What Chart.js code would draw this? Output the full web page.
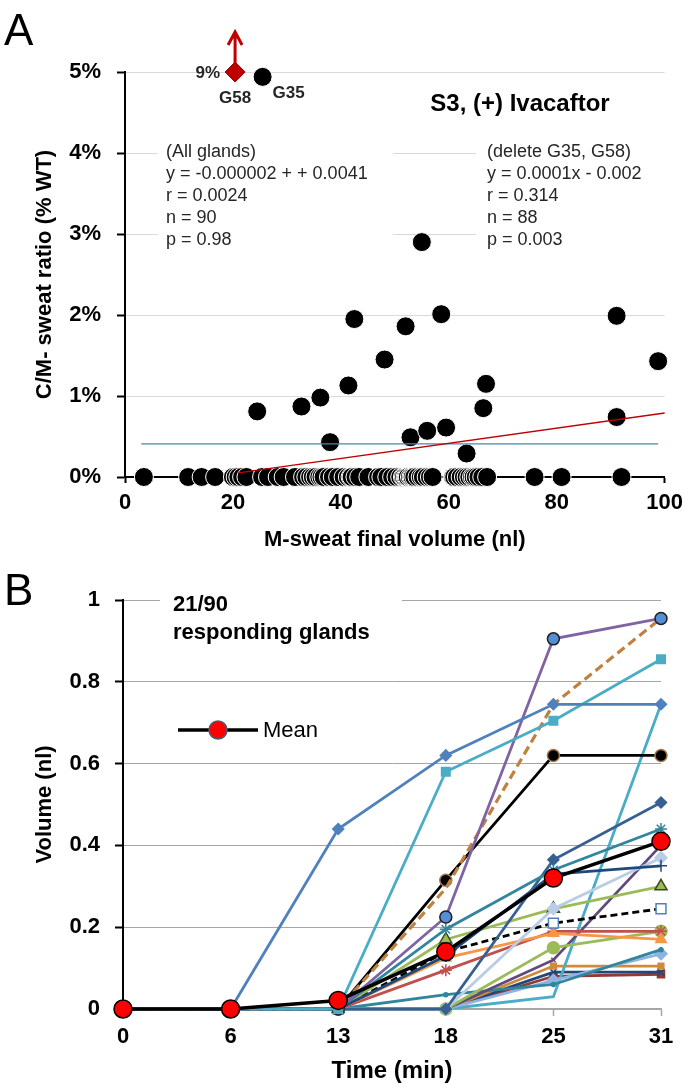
<!DOCTYPE html>
<html>
<head>
<meta charset="utf-8">
<script src="https://cdn.jsdelivr.net/npm/chart.js@4.4.1/dist/chart.umd.min.js"></script>
<style>
  html, body { margin: 0; padding: 0; background: #fff; }
  #chartA { position: absolute; left: 0; top: 0; }
  #chartB { position: absolute; left: 0; top: 560px; }
</style>
</head>
<body>
<canvas id="chartA" width="690" height="560"></canvas>
<canvas id="chartB" width="690" height="531"></canvas>
<script>
// ---------- Panel A data (M-sweat volume nl, C/M ratio %) ----------
const zeroVolume = [3.5, 11.7, 14.2, 16.7, 20.0, 20.5, 21.0, 21.7, 22.5, 25.4, 26.5, 28.3, 29.4,
  31.5, 33.0, 33.6, 34.3, 34.8, 35.3, 36.0, 36.4, 36.8, 37.8, 38.5, 39.5, 40.5, 41.3, 41.8, 42.0,
  42.7, 43.4, 45.1, 46.9, 47.5, 48.6, 49.5, 50.3, 51.0, 51.5, 51.7, 52.0, 52.2, 52.4, 52.8, 53.1,
  53.3, 53.6, 54.2, 54.8, 55.2, 55.9, 56.5, 57.0, 60.8, 61.0, 61.5, 62.2, 62.8, 63.3, 63.8, 64.3,
  64.6, 65.0, 65.5, 66.2, 67.1, 75.9, 80.9, 92.0];
const zeroRatio = zeroVolume.map(() => 0);
const respVolume = [24.5, 32.7, 36.2, 38.0, 41.4, 42.5, 48.1, 52.0, 52.9, 55.0, 56.0, 58.6, 59.5,
  63.3, 66.4, 66.9, 91.1, 91.1, 98.8];
const respRatio = [0.81, 0.87, 0.98, 0.43, 1.13, 1.95, 1.45, 1.86, 0.49, 2.90, 0.57, 2.01, 0.61,
  0.29, 0.85, 1.15, 1.99, 0.74, 1.43];
const g35Volume = [25.5];
const g35Ratio = [4.94];
const g58Volume = [20.4];
const g58Ratio = [5.0];       // plotted at axis top, real value 9%
const meanLineX = [3, 98.8];
const meanLineY = [0.41, 0.41];
const trendX = [21, 100];
const trendY = [0.05, 0.79];
const statsAll = ['(All glands)', 'y = -0.000002 + + 0.0041', 'r = 0.0024', 'n = 90', 'p = 0.98'];
const statsTrim = ['(delete G35, G58)', 'y = 0.0001x - 0.002', 'r = 0.314', 'n = 88', 'p = 0.003'];

// ---------- Panel B data (volume nl at each time) ----------
const timeLabels = ['0', '6', '13', '18', '25', '31'];
const meanVol = [0, 0, 0.021, 0.14, 0.32, 0.41];
const g01 = [0, 0, 0.44, 0.62, 0.745, 0.745];
const g02 = [0, 0, 0, 0.58, 0.705, 0.855];
const g03 = [0, 0, 0, 0.225, 0.905, 0.955];
const g04 = [0, 0, 0, 0.295, 0.745, 0.955];
const g05 = [0, 0, 0, 0.315, 0.62, 0.62];
const g06 = [0, 0, 0, 0.195, 0.34, 0.44];
const g07 = [0, 0, 0, 0, 0.365, 0.505];
const g08 = [0, 0, 0, 0.13, 0.33, 0.35];
const g09 = [0, 0, 0, 0, 0.245, 0.37];
const g10 = [0, 0, 0, 0.17, 0.245, 0.30];
const g11 = [0, 0, 0, 0.14, 0.21, 0.245];
const g12 = [0, 0, 0, 0.125, 0.185, 0.17];
const g13 = [0, 0, 0, 0.095, 0.19, 0.19];
const g14 = [0, 0, 0, 0, 0.15, 0.19];
const g15 = [0, 0, 0, 0, 0.12, 0.40];
const g16 = [0, 0, 0, 0.035, 0.06, 0.145];
const g17 = [0, 0, 0, 0, 0.07, 0.135];
const g18 = [0, 0, 0, 0, 0.03, 0.745];
const g19 = [0, 0, 0, 0, 0.105, 0.105];
const g20 = [0, 0, 0, 0, 0.09, 0.09];
const g21 = [0, 0, 0, 0, 0.08, 0.085];

const FONT = '"Liberation Sans", Arial, sans-serif';
const pts = (xs, ys) => xs.map((x, i) => ({ x, y: ys[i] }));

// ---------- Panel A ----------
const annotA = {
  id: 'annotA',
  beforeDatasetsDraw(chart) {
    const ctx = chart.ctx;
    ctx.save();
    // white text boxes hide the grid lines, as in the source figure
    ctx.fillStyle = '#fff';
    ctx.fillRect(158, 138, 235, 116);
    ctx.fillRect(476, 138, 214, 116);
    ctx.fillStyle = '#262626';
    ctx.font = '18px ' + FONT;
    ctx.textBaseline = 'middle';
    statsAll.forEach((t, i) => ctx.fillText(t, 166, 152 + i * 22));
    statsTrim.forEach((t, i) => ctx.fillText(t, 487, 152 + i * 22));
    ctx.restore();
  },
  afterDatasetsDraw(chart) {
    const ctx = chart.ctx;
    const xs = chart.scales.x, ys = chart.scales.y;
    const px = xs.getPixelForValue(g58Volume[0]), py = ys.getPixelForValue(g58Ratio[0]);
    const qx = xs.getPixelForValue(g35Volume[0]), qy = ys.getPixelForValue(g35Ratio[0]);
    ctx.save();
    // arrow: G58 is off the scale
    ctx.strokeStyle = '#c00000';
    ctx.lineWidth = 3;
    ctx.beginPath();
    ctx.moveTo(px, py - 8);
    ctx.lineTo(px, py - 40);
    ctx.moveTo(px - 7, py - 27);
    ctx.lineTo(px, py - 40);
    ctx.lineTo(px + 7, py - 27);
    ctx.stroke();
    ctx.fillStyle = '#262626';
    ctx.font = 'bold 17px ' + FONT;
    ctx.textBaseline = 'middle';
    ctx.textAlign = 'right';
    ctx.fillText('9%', px - 15, py + 1);
    ctx.textAlign = 'center';
    ctx.fillText('G58', px, py + 26);
    ctx.textAlign = 'left';
    ctx.fillText('G35', qx + 10, qy + 16);
    ctx.fillStyle = '#000';
    ctx.font = 'bold 24px ' + FONT;
    ctx.textAlign = 'center';
    ctx.fillText('S3, (+) Ivacaftor', 520, 104);
    ctx.font = '44px ' + FONT;
    ctx.textAlign = 'left';
    ctx.textBaseline = 'alphabetic';
    ctx.fillText('A', 4, 45);
    ctx.restore();
  }
};

new Chart(document.getElementById('chartA'), {
  type: 'scatter',
  data: {
    datasets: [
      { data: pts(trendX, trendY), showLine: true, borderColor: '#c00000', borderWidth: 1.3,
        pointRadius: 0, clip: false },
      { data: pts(meanLineX, meanLineY), showLine: true, borderColor: '#4f81bd', borderWidth: 1.3,
        pointRadius: 0, clip: false },
      { data: pts(g58Volume, g58Ratio), pointStyle: 'rectRot', pointRadius: 10,
        backgroundColor: '#c00000', borderColor: '#8b0000', borderWidth: 1, clip: false },
      { data: pts(g35Volume, g35Ratio), pointRadius: 9.5, backgroundColor: '#000',
        borderColor: '#fff', borderWidth: 1, clip: false },
      { data: pts(respVolume, respRatio), pointRadius: 9.5, backgroundColor: '#000',
        borderColor: '#fff', borderWidth: 1, clip: false },
      { data: pts(zeroVolume, zeroRatio), pointRadius: 9.5, backgroundColor: '#000',
        borderColor: '#fff', borderWidth: 1, clip: false }
    ]
  },
  options: {
    responsive: false,
    animation: false,
    events: [],
    layout: { padding: { top: 72, right: 25, left: 0, bottom: 0 } },
    plugins: { legend: { display: false }, tooltip: { enabled: false } },
    scales: {
      x: {
        min: 0, max: 100,
        afterFit: s => { s.height = 83; },
        ticks: { stepSize: 20, color: '#000', padding: 7, font: { family: FONT, size: 22, weight: 'bold' } },
        grid: { drawOnChartArea: false, tickLength: 6, tickColor: '#000', tickWidth: 2 },
        border: { color: '#000', width: 2 },
        title: { display: true, text: 'M-sweat final volume (nl)', color: '#000',
          font: { family: FONT, size: 22, weight: 'bold' }, padding: { bottom: 7 } }
      },
      y: {
        min: 0, max: 5,
        afterFit: s => { s.width = 125; },
        ticks: { stepSize: 1, color: '#000', padding: 16, callback: v => v + '%',
          font: { family: FONT, size: 22, weight: 'bold' } },
        grid: { color: '#d9d9d9', lineWidth: 1, tickLength: 8, tickColor: '#000', tickWidth: 2 },
        border: { color: '#000', width: 2 },
        title: { display: true, text: 'C/M- sweat ratio (% WT)', color: '#000',
          font: { family: FONT, size: 22, weight: 'bold' }, padding: { top: 32 } }
      }
    }
  },
  plugins: [annotA]
});

// ---------- Panel B ----------
const glandSeries = [
  { d: g01, c: '#4f81bd', m: 'rectRot', r: 5.5 },
  { d: g02, c: '#4bacc6', m: 'rect', r: 6 },
  { d: g03, c: '#8064a2', m: 'circle', r: 6, fill: '#558ed5', bc: '#1f1f1f' },
  { d: g04, c: '#c0803f', m: 'circle', r: 0, dash: [9, 5], w: 3.2 },
  { d: g05, c: '#000000', m: 'circle', r: 6, fill: '#000', bc: '#a07850' },
  { d: g06, c: '#31859c', m: 'star', r: 6 },
  { d: g07, c: '#376092', m: 'rectRot', r: 5.5 },
  { d: g08, c: '#1f497d', m: 'cross', r: 6 },
  { d: g09, c: '#b9cde5', m: 'rectRot', r: 6 },
  { d: g10, c: '#9bbb59', m: 'triangle', r: 7, bc: '#3a4a1c' },
  { d: g11, c: '#000000', m: 'rect', r: 7, fill: '#fff', bc: '#4f81bd', dash: [7, 4] },
  { d: g12, c: '#f79646', m: 'triangle', r: 6 },
  { d: g13, c: '#c0504d', m: 'star', r: 6 },
  { d: g14, c: '#9bbb59', m: 'circle', r: 6 },
  { d: g15, c: '#604a7b', m: 'crossRot', r: 3 },
  { d: g16, c: '#31859c', m: 'circle', r: 2 },
  { d: g17, c: '#8db3e2', m: 'rectRot', r: 6 },
  { d: g18, c: '#4bacc6', m: 'circle', r: 0 },
  { d: g19, c: '#d08a3c', m: 'rect', r: 4 },
  { d: g20, c: '#1f497d', m: 'crossRot', r: 5 },
  { d: g21, c: '#953735', m: 'rect', r: 5 }
];

const glandDatasets = glandSeries.map(s => ({
  data: s.d,
  borderColor: s.c,
  borderWidth: s.w || 2.8,
  borderDash: s.dash || [],
  pointStyle: s.m,
  pointRadius: s.r,
  pointBackgroundColor: s.fill || s.c,
  pointBorderColor: s.bc || s.c,
  pointBorderWidth: 1.5,
  tension: 0,
  clip: false
}));

const annotB = {
  id: 'annotB',
  beforeDatasetsDraw(chart) {
    const ctx = chart.ctx;
    ctx.save();
    ctx.fillStyle = '#fff';
    ctx.fillRect(160, 30, 242, 56);
    ctx.fillStyle = '#000';
    ctx.font = 'bold 22px ' + FONT;
    ctx.textBaseline = 'middle';
    ctx.fillText('21/90', 173, 45);
    ctx.fillText('responding glands', 173, 73);
    // legend for the mean series
    ctx.strokeStyle = '#000';
    ctx.lineWidth = 3.5;
    ctx.beginPath();
    ctx.moveTo(178, 170);
    ctx.lineTo(258, 170);
    ctx.stroke();
    ctx.beginPath();
    ctx.arc(218, 170, 9, 0, Math.PI * 2);
    ctx.fillStyle = '#ff0000';
    ctx.fill();
    ctx.lineWidth = 1.5;
    ctx.strokeStyle = '#4a5a7a';
    ctx.stroke();
    ctx.fillStyle = '#000';
    ctx.font = '22px ' + FONT;
    ctx.fillText('Mean', 263, 171);
    ctx.font = '44px ' + FONT;
    ctx.textBaseline = 'alphabetic';
    ctx.fillText('B', 4, 45);
    ctx.restore();
  }
};

new Chart(document.getElementById('chartB'), {
  type: 'line',
  data: {
    labels: timeLabels,
    datasets: [
      { data: meanVol, borderColor: '#000', borderWidth: 3.5, pointRadius: 9,
        pointBackgroundColor: '#ff0000', pointBorderColor: '#000', pointBorderWidth: 1.5,
        tension: 0, clip: false },
      ...glandDatasets
    ]
  },
  options: {
    responsive: false,
    animation: false,
    events: [],
    layout: { padding: { top: 40, right: 29, left: 0, bottom: 0 } },
    plugins: { legend: { display: false }, tooltip: { enabled: false } },
    scales: {
      x: {
        offset: false,
        afterFit: s => { s.height = 82; },
        ticks: { color: '#000', padding: 8, font: { family: FONT, size: 22, weight: 'bold' } },
        grid: { drawOnChartArea: false, tickLength: 7, tickColor: '#a6a6a6', tickWidth: 1.5 },
        border: { color: '#a6a6a6', width: 1.5 },
        title: { display: true, text: 'Time (min)', color: '#000',
          font: { family: FONT, size: 24, weight: 'bold' }, padding: { bottom: 5 } }
      },
      y: {
        min: 0, max: 1,
        afterFit: s => { s.width = 123; },
        ticks: { stepSize: 0.2, color: '#000', padding: 15,
          callback: v => String(Number(v.toFixed(1))),
          font: { family: FONT, size: 22, weight: 'bold' } },
        grid: { color: '#a6a6a6', lineWidth: 1, tickLength: 8, tickColor: '#000', tickWidth: 2 },
        border: { color: '#000', width: 2 },
        title: { display: true, text: 'Volume (nl)', color: '#000',
          font: { family: FONT, size: 22, weight: 'bold' }, padding: { top: 32 } }
      }
    }
  },
  plugins: [annotB]
});
</script>
</body>
</html>
